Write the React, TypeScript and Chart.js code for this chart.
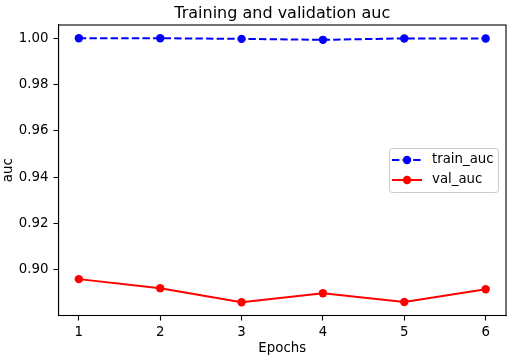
import React, { useEffect, useRef } from "react";
import { Chart, registerables } from "chart.js";

Chart.register(...registerables);

const epochs = [1, 2, 3, 4, 5, 6];
const trainAuc = [1.0, 1.0, 0.9997, 0.9993, 0.9999, 0.9999];
const valAuc = [0.896, 0.8921, 0.886, 0.8899, 0.8861, 0.8916];
const yTicks = [0.9, 0.92, 0.94, 0.96, 0.98, 1.0];
const titleText = "Training and validation auc";
const seriesLabels = ["train_auc", "val_auc"];

const FONT = "'DejaVu Sans', sans-serif";
const FS = 13.33;
const DASH = [7.4, 3.2];

const decorPlugin = {
  id: "decor",
  afterDraw(chart: any) {
    const { ctx, chartArea } = chart;
    const { left, right, top, bottom } = chartArea;
    ctx.save();
    // frame
    ctx.strokeStyle = "#000";
    ctx.lineWidth = 1.1;
    ctx.strokeRect(left, top, right - left, bottom - top);
    // title
    ctx.fillStyle = "#000";
    ctx.font = `16px ${FONT}`;
    ctx.textAlign = "center";
    ctx.textBaseline = "alphabetic";
    ctx.fillText(titleText, (left + right) / 2, 18);
    // legend
    const bx = 389, by = 148, bw = 109, bh = 44;
    ctx.fillStyle = "rgba(255,255,255,0.8)";
    ctx.strokeStyle = "#cccccc";
    ctx.lineWidth = 1;
    ctx.beginPath();
    ctx.roundRect(bx + 0.5, by + 0.5, bw, bh, 3);
    ctx.fill();
    ctx.stroke();
    const rows = [
      { label: seriesLabels[0], color: "#0000ff", dash: DASH, y: by + 12 },
      { label: seriesLabels[1], color: "#ff0000", dash: [], y: by + 32 },
    ];
    for (const r of rows) {
      ctx.strokeStyle = r.color;
      ctx.lineWidth = 2;
      ctx.setLineDash(r.dash);
      ctx.beginPath();
      ctx.moveTo(bx + 3, r.y);
      ctx.lineTo(bx + 33, r.y);
      ctx.stroke();
      ctx.setLineDash([]);
      ctx.fillStyle = r.color;
      ctx.beginPath();
      ctx.arc(bx + 18, r.y, 4.2, 0, Math.PI * 2);
      ctx.fill();
      ctx.fillStyle = "#000";
      ctx.font = `${FS}px ${FONT}`;
      ctx.textAlign = "left";
      ctx.textBaseline = "middle";
      ctx.fillText(r.label, bx + 43, r.y);
    }
    ctx.restore();
  },
};

export default function App() {
  const ref = useRef<HTMLCanvasElement>(null);
  useEffect(() => {
    document.body.style.margin = "0";
    const canvas = ref.current!;
    const chart = new Chart(canvas, {
      type: "line",
      data: {
        datasets: [
          {
            label: seriesLabels[0],
            data: epochs.map((e, i) => ({ x: e, y: trainAuc[i] })),
            borderColor: "#0000ff",
            backgroundColor: "#0000ff",
            borderWidth: 2,
            borderDash: DASH,
            pointRadius: 4.2,
            pointBorderWidth: 0,
            pointBackgroundColor: "#0000ff",
            tension: 0,
          },
          {
            label: seriesLabels[1],
            data: epochs.map((e, i) => ({ x: e, y: valAuc[i] })),
            borderColor: "#ff0000",
            backgroundColor: "#ff0000",
            borderWidth: 2,
            pointRadius: 4.2,
            pointBorderWidth: 0,
            pointBackgroundColor: "#ff0000",
            tension: 0,
          },
        ],
      },
      options: {
        responsive: false,
        animation: false,
        devicePixelRatio: 1,
        layout: { padding: { top: 25, right: 12, left: 0, bottom: 0 } },
        plugins: {
          legend: { display: false },
          title: { display: false },
          tooltip: { enabled: false },
        },
        scales: {
          x: {
            type: "linear",
            min: 0.75,
            max: 6.25,
            afterBuildTicks: (s: any) => {
              s.ticks = epochs.map((v) => ({ value: v }));
            },
            afterFit: (s: any) => {
              s.height = 44.5;
            },
            ticks: {
              color: "#000",
              font: { family: FONT, size: FS },
              padding: 4,
              maxRotation: 0,
              callback: (v: any) => String(v),
            },
            grid: {
              display: true,
              drawOnChartArea: false,
              drawTicks: true,
              tickLength: 5,
              tickColor: "#000",
              tickWidth: 1.1,
            },
            border: { display: true, color: "#000", width: 1.1 },
            title: {
              display: true,
              text: "Epochs",
              color: "#000",
              font: { family: FONT, size: FS },
              padding: { top: 0, bottom: 3 },
            },
          },
          y: {
            type: "linear",
            min: 0.8803,
            max: 1.0057,
            afterBuildTicks: (s: any) => {
              s.ticks = yTicks.map((v) => ({ value: v }));
            },
            afterFit: (s: any) => {
              s.width = 58.5;
            },
            ticks: {
              color: "#000",
              font: { family: FONT, size: FS },
              padding: 5,
              callback: (v: any) => Number(v).toFixed(2),
            },
            grid: {
              display: true,
              drawOnChartArea: false,
              drawTicks: true,
              tickLength: 5,
              tickColor: "#000",
              tickWidth: 1.1,
            },
            border: { display: true, color: "#000", width: 1.1 },
            title: {
              display: true,
              text: "auc",
              color: "#000",
              font: { family: FONT, size: FS },
              padding: { top: 0.5, bottom: 0 },
            },
          },
        },
      },
      plugins: [decorPlugin],
    } as any);
    return () => chart.destroy();
  }, []);
  return (
    <div style={{ width: 518, height: 360 }}>
      <canvas ref={ref} width={518} height={360} />
    </div>
  );
}
